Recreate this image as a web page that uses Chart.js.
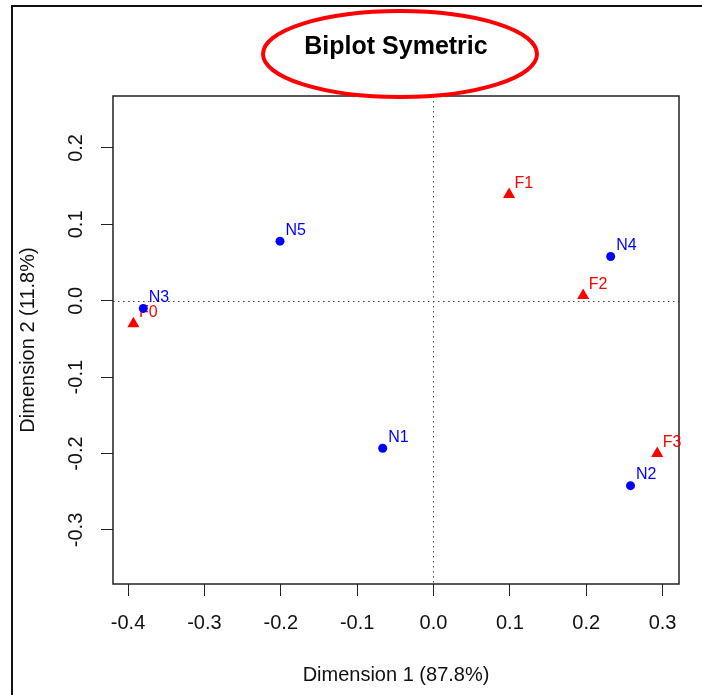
<!DOCTYPE html>
<html>
<head>
<meta charset="utf-8">
<script src="https://cdn.jsdelivr.net/npm/chart.js@4.4.1/dist/chart.umd.min.js"></script>
<style>
    html, body { margin: 0; padding: 0; background: #fff; }
    canvas { display: block; }
</style>
</head>
<body>
<canvas id="chart" width="702" height="695"></canvas>
<script>
// Wiersze (N) - współrzędne na wymiarach 1 i 2
const rowLabels = ["N1", "N2", "N3", "N4", "N5"];
const rowDim1 = [-0.0665, 0.258, -0.38, 0.232, -0.201];
const rowDim2 = [-0.193, -0.242, -0.01, 0.058, 0.078];

// Kolumny (F) - współrzędne na wymiarach 1 i 2
const colLabels = ["F0", "F1", "F2", "F3"];
const colDim1 = [-0.393, 0.099, 0.196, 0.293];
const colDim2 = [-0.03, 0.139, 0.007, -0.2];

// Podziałki osi
const xTicks = [-0.4, -0.3, -0.2, -0.1, 0.0, 0.1, 0.2, 0.3];
const xTickLabels = ["-0.4", "-0.3", "-0.2", "-0.1", "0.0", "0.1", "0.2", "0.3"];
const yTicks = [-0.3, -0.2, -0.1, 0.0, 0.1, 0.2];
const yTickLabels = ["-0.3", "-0.2", "-0.1", "0.0", "0.1", "0.2"];

// Zakresy osi
const xRange = [-0.4197, 0.3215];
const yRange = [-0.3707, 0.268];

const FONT = "'Liberation Sans', Arial, sans-serif";
Chart.defaults.font.family = FONT;
Chart.defaults.color = "#111";

function toPoints(xs, ys) {
    return xs.map((x, i) => ({ x: x, y: ys[i] }));
}

// Ramka, osie zerowe, pudełko wykresu i elipsa wokół tytułu
const decorations = {
    id: "decorations",
    beforeDraw(chart) {
        const ctx = chart.ctx;
        ctx.save();
        ctx.fillStyle = "#fff";
        ctx.fillRect(0, 0, chart.width, chart.height);
        ctx.strokeStyle = "#111";
        ctx.lineWidth = 2;
        ctx.strokeRect(12, 6, chart.width + 20, chart.height + 20);
        ctx.restore();
    },
    beforeDatasetsDraw(chart) {
        const ctx = chart.ctx;
        const a = chart.chartArea;
        const x0 = Math.round(chart.scales.x.getPixelForValue(0)) + 0.5;
        const y0 = Math.round(chart.scales.y.getPixelForValue(0)) + 0.5;
        ctx.save();
        ctx.strokeStyle = "#444";
        ctx.lineWidth = 1;
        ctx.setLineDash([1.5, 3.5]);
        ctx.beginPath();
        ctx.moveTo(a.left, y0);
        ctx.lineTo(a.right, y0);
        ctx.moveTo(x0, a.top);
        ctx.lineTo(x0, a.bottom);
        ctx.stroke();
        ctx.setLineDash([]);
        ctx.strokeStyle = "#222";
        ctx.lineWidth = 1.5;
        ctx.strokeRect(a.left, a.top, a.right - a.left, a.bottom - a.top);
        ctx.restore();
    },
    afterDraw(chart) {
        const ctx = chart.ctx;
        ctx.save();
        ctx.strokeStyle = "#ff0000";
        ctx.lineWidth = 4;
        ctx.beginPath();
        ctx.ellipse(400, 54, 137, 43, 0, 0, Math.PI * 2);
        ctx.stroke();
        ctx.restore();
    }
};

// Etykiety punktów (N1..N5, F0..F3)
const pointLabels = {
    id: "pointLabels",
    afterDatasetDraw(chart, args) {
        const ds = chart.data.datasets[args.index];
        const ctx = chart.ctx;
        ctx.save();
        ctx.font = "16px " + FONT;
        ctx.fillStyle = ds.backgroundColor;
        ctx.textAlign = "left";
        ctx.textBaseline = "middle";
        args.meta.data.forEach((pt, i) => {
            ctx.fillText(ds.names[i], pt.x + 5.5, pt.y - 11);
        });
        ctx.restore();
    }
};

const ctx = document.getElementById("chart").getContext("2d");
const chart = new Chart(ctx, {
    type: "scatter",
    data: {
        datasets: [
            {
                label: "N",
                names: rowLabels,
                data: toPoints(rowDim1, rowDim2),
                pointStyle: "circle",
                radius: 4.5,
                hoverRadius: 4.5,
                backgroundColor: "#0000ff",
                borderWidth: 0,
            },
            {
                label: "F",
                names: colLabels,
                data: toPoints(colDim1, colDim2),
                pointStyle: "triangle",
                radius: 7,
                hoverRadius: 7,
                backgroundColor: "#ff0000",
                borderWidth: 0,
            },
        ],
    },
    options: {
        responsive: false,
        animation: false,
        events: [],
        layout: { padding: { left: 0, right: 23, top: 0, bottom: 0 } },
        plugins: {
            legend: { display: false },
            tooltip: { enabled: false },
            title: {
                display: true,
                text: "Biplot Symetric",
                fullSize: false,
                color: "#000",
                font: { size: 25, weight: "bold" },
                padding: { top: 32, bottom: 34 },
            },
        },
        scales: {
            x: {
                type: "linear",
                position: "bottom",
                min: xRange[0],
                max: xRange[1],
                afterBuildTicks: (scale) => {
                    scale.ticks = xTicks.map((v) => ({ value: v }));
                },
                afterFit: (scale) => {
                    scale.height = 111;
                },
                ticks: {
                    autoSkip: false,
                    maxRotation: 0,
                    padding: 15,
                    color: "#111",
                    font: { size: 20 },
                    callback: (v, i) => xTickLabels[i],
                },
                grid: {
                    drawOnChartArea: false,
                    drawTicks: true,
                    tickLength: 12,
                    color: "#222",
                    lineWidth: 1,
                },
                border: { display: false },
                title: {
                    display: true,
                    text: "Dimension 1 (87.8%)",
                    color: "#111",
                    font: { size: 20 },
                    padding: { top: 0, bottom: 8 },
                },
            },
            y: {
                type: "linear",
                position: "left",
                min: yRange[0],
                max: yRange[1],
                afterBuildTicks: (scale) => {
                    scale.ticks = yTicks.map((v) => ({ value: v }));
                },
                afterFit: (scale) => {
                    scale.width = 113;
                },
                ticks: {
                    autoSkip: false,
                    minRotation: 90,
                    maxRotation: 90,
                    crossAlign: "center",
                    padding: 7,
                    color: "#111",
                    font: { size: 20 },
                    callback: (v, i) => yTickLabels[i],
                },
                grid: {
                    drawOnChartArea: false,
                    drawTicks: true,
                    tickLength: 12,
                    color: "#222",
                    lineWidth: 1,
                },
                border: { display: false },
                title: {
                    display: true,
                    text: "Dimension 2 (11.8%)",
                    color: "#111",
                    font: { size: 20 },
                    padding: { top: 16, bottom: 0 },
                },
            },
        },
    },
    plugins: [decorations, pointLabels],
});
</script>
</body>
</html>
